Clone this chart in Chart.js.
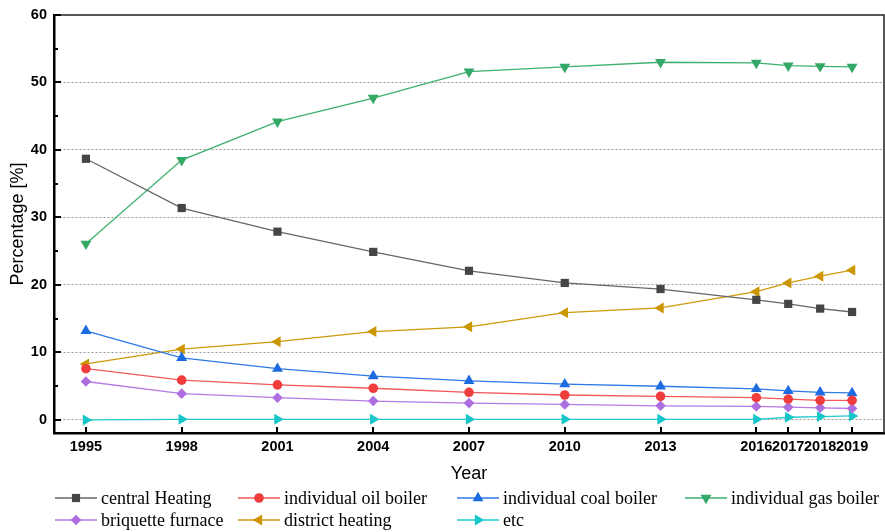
<!DOCTYPE html>
<html><head><meta charset="utf-8">
<script src="https://cdn.jsdelivr.net/npm/chart.js@4/dist/chart.umd.min.js"></script>
<style>html,body{margin:0;padding:0;background:#fff;}#wrap{width:885px;height:532px;position:relative;}</style>
</head><body><div id="wrap"><canvas id="c" width="885" height="532"></canvas></div>
<script>
const years = [1995, 1998, 2001, 2004, 2007, 2010, 2013, 2016, 2017, 2018, 2019];
const seriesNames = ['central Heating', 'individual oil boiler', 'individual coal boiler', 'individual gas boiler', 'briquette furnace', 'district heating', 'etc'];
const centralHeating   = [38.7, 31.4, 27.9, 24.9, 22.1, 20.3, 19.4, 17.8, 17.2, 16.5, 16.0];
const oilBoiler        = [7.6, 5.9, 5.2, 4.7, 4.1, 3.7, 3.5, 3.3, 3.1, 2.9, 2.9];
const coalBoiler       = [13.2, 9.2, 7.6, 6.5, 5.8, 5.3, 5.0, 4.6, 4.3, 4.1, 4.0];
const gasBoiler        = [26.1, 38.5, 44.2, 47.7, 51.6, 52.3, 53.0, 52.9, 52.5, 52.4, 52.3];
const briquetteFurnace = [5.7, 3.9, 3.3, 2.8, 2.5, 2.3, 2.1, 2.0, 1.9, 1.8, 1.7];
const districtHeating  = [8.3, 10.5, 11.6, 13.1, 13.8, 15.9, 16.6, 19.0, 20.3, 21.3, 22.2];
const etcValues        = [0.0, 0.1, 0.1, 0.1, 0.1, 0.1, 0.1, 0.1, 0.4, 0.5, 0.6];
const yTicks = [0, 10, 20, 30, 40, 50, 60];

const seriesValues = [centralHeating, oilBoiler, coalBoiler, gasBoiler, briquetteFurnace, districtHeating, etcValues];
const styles = [
  {line: '#666666', fill: '#454545', shape: 'rect', rot: 0, r: 5.8},
  {line: '#f25858', fill: '#ef3d3d', shape: 'circle', rot: 0, r: 4.8},
  {line: '#2e7ae6', fill: '#1c6be0', shape: 'triangle', rot: 0, r: 6.3},
  {line: '#3cb06e', fill: '#34a866', shape: 'triangle', rot: 180, r: 6.3},
  {line: '#b47ae6', fill: '#ad6fe0', shape: 'rectRot', rot: 0, r: 5.3},
  {line: '#cc9a0a', fill: '#cc9600', shape: 'triangle', rot: 270, r: 6.3},
  {line: '#22c8cc', fill: '#16c6c9', shape: 'triangle', rot: 90, r: 6.3}
];

const datasets = seriesNames.map((name, i) => ({
  label: name,
  data: years.map((yr, j) => ({x: yr, y: seriesValues[i][j]})),
  borderColor: styles[i].line,
  backgroundColor: styles[i].fill,
  pointBackgroundColor: styles[i].fill,
  pointBorderColor: styles[i].fill,
  pointBorderWidth: 0,
  pointStyle: styles[i].shape,
  pointRotation: styles[i].rot,
  pointRadius: styles[i].r,
  pointHoverRadius: styles[i].r,
  borderWidth: 1.3,
  tension: 0,
  clip: false
}));

const tickFont = {family: "'Liberation Sans', Arial, sans-serif", size: 14.5, weight: 'bold'};
const titleFont = {family: "'Liberation Sans', Arial, sans-serif", size: 18, weight: 'normal'};

const legendCols = [55, 238, 457, 685];
const legendRows = [498, 520];

const decorPlugin = {
  id: 'decor',
  afterDraw(chart) {
    const {ctx, chartArea: a, scales: {x, y}} = chart;
    ctx.save();
    ctx.strokeStyle = '#222';
    ctx.lineWidth = 1.5;
    ctx.beginPath();
    ctx.moveTo(a.left, a.top);
    ctx.lineTo(a.right, a.top);
    ctx.lineTo(a.right, a.bottom);
    ctx.stroke();
    ctx.strokeStyle = '#000';
    ctx.lineWidth = 2;
    ctx.beginPath();
    yTicks.forEach((v, i) => {
      const py = Math.round(y.getPixelForValue(v));
      ctx.moveTo(a.left, py); ctx.lineTo(a.left + 7, py);
      if (i < yTicks.length - 1) {
        const pm = Math.round(y.getPixelForValue((v + yTicks[i + 1]) / 2));
        ctx.moveTo(a.left, pm); ctx.lineTo(a.left + 4, pm);
      }
    });
    years.forEach(yr => {
      const px = Math.round(x.getPixelForValue(yr));
      ctx.moveTo(px, a.bottom); ctx.lineTo(px, a.bottom - 6);
    });
    ctx.stroke();
    ctx.font = "18px 'Liberation Serif', 'Times New Roman', serif";
    ctx.textBaseline = 'middle';
    ctx.textAlign = 'left';
    chart.data.datasets.forEach((ds, i) => {
      const row = i < 4 ? 0 : 1;
      const col = i < 4 ? i : i - 4;
      const lx = legendCols[col], ly = legendRows[row];
      ctx.strokeStyle = ds.borderColor;
      ctx.lineWidth = 1.6;
      ctx.beginPath(); ctx.moveTo(lx, ly); ctx.lineTo(lx + 42, ly); ctx.stroke();
      ctx.fillStyle = ds.pointBackgroundColor;
      Chart.helpers.drawPoint(ctx, {pointStyle: ds.pointStyle, rotation: ds.pointRotation, radius: ds.pointRadius, borderWidth: 0}, lx + 21, ly);
      ctx.fillStyle = '#000';
      ctx.fillText(ds.label, lx + 46, ly + 1);
    });
    ctx.restore();
  }
};

new Chart(document.getElementById('c'), {
  type: 'line',
  data: {datasets},
  options: {
    responsive: false,
    animation: false,
    devicePixelRatio: 1,
    layout: {autoPadding: false, padding: {left: 0, right: 1, top: 15, bottom: 47}},
    plugins: {legend: {display: false}, tooltip: {enabled: false}},
    scales: {
      x: {
        type: 'linear', min: 1994, max: 2020,
        afterBuildTicks: s => { s.ticks = years.map(v => ({value: v})); },
        afterFit: s => { s.height = 52; s.paddingLeft = 0; s.paddingRight = 0; },
        grid: {display: false, drawTicks: false},
        border: {display: true, color: '#000', width: 2.5},
        ticks: {padding: 5, color: '#000', font: tickFont, autoSkip: false, maxRotation: 0, callback: v => String(v)},
        title: {display: true, text: 'Year', color: '#000', font: titleFont, padding: {top: 0, bottom: 0}}
      },
      y: {
        min: -1.93, max: 60,
        afterBuildTicks: s => { s.ticks = yTicks.map(v => ({value: v})); },
        afterFit: s => { s.width = 54; s.paddingTop = 0; s.paddingBottom = 0; },
        grid: {color: c => (c.tick && c.tick.value === 60) ? 'rgba(0,0,0,0)' : '#9a9a9a', lineWidth: 1, drawTicks: false},
        border: {display: true, color: '#000', width: 2.5, dash: [2, 2]},
        ticks: {padding: 7, color: '#000', font: tickFont, callback: v => String(v)},
        title: {display: true, text: 'Percentage [%]', color: '#000', font: titleFont, padding: {top: 7.5, bottom: 0}}
      }
    }
  },
  plugins: [decorPlugin]
});
</script>
</body></html>
